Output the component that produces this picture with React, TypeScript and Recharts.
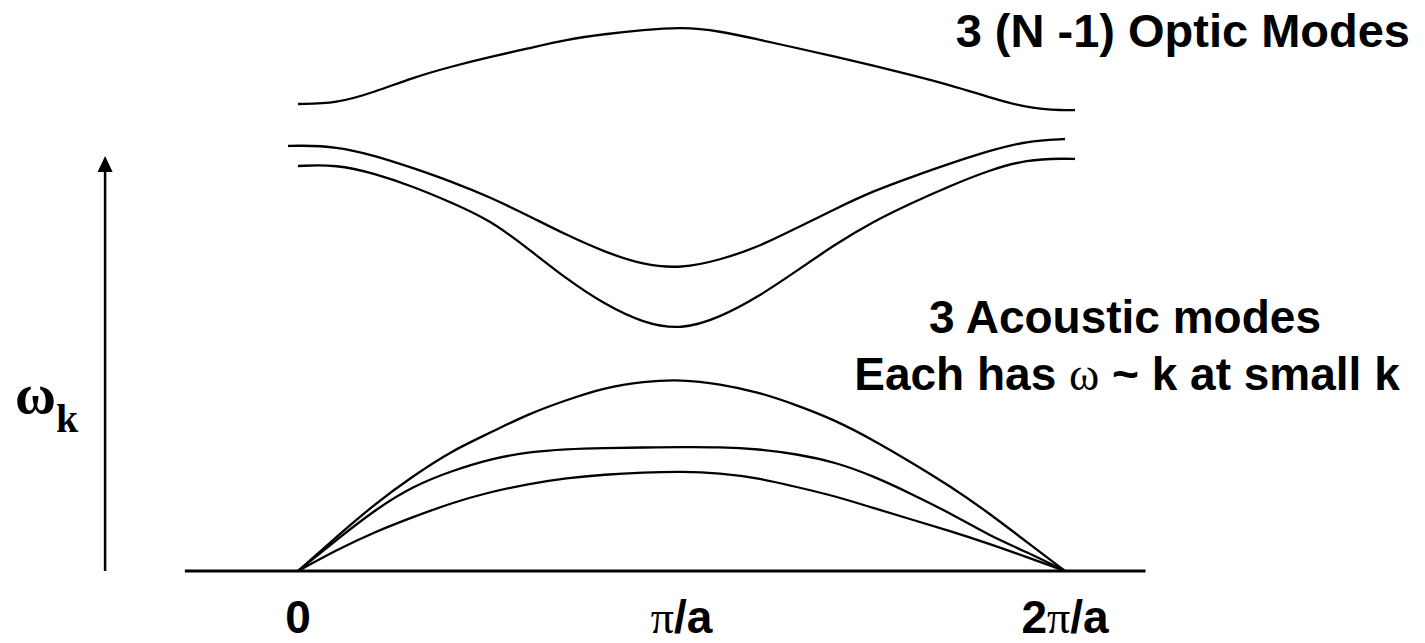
import React from 'react';
import { LineChart, Line, XAxis, YAxis, ReferenceLine, Customized } from 'recharts';

// Wave vector k in units of pi/a, sampled across the zone 0 .. 2pi/a
const kGrid = [0, 0.1, 0.2, 0.3, 0.4, 0.5, 0.6, 0.7, 0.8, 0.9, 1.0, 1.1, 1.2, 1.3, 1.4, 1.5, 1.6, 1.7, 1.8, 1.9, 2.0];
const kLeftStub = -0.026;
const kRightStub = 2.026;

// Optic branches (frequency, arbitrary units)
const opticTop = [9.34, 9.35, 9.58, 9.87, 10.09, 10.28, 10.45, 10.63, 10.74, 10.82, 10.88, 10.8, 10.63, 10.46, 10.29, 10.11, 9.92, 9.72, 9.48, 9.26, 9.21, 9.22];
const opticMid = [8.5, 8.51, 8.49, 8.31, 8.06, 7.79, 7.48, 7.11, 6.72, 6.38, 6.12, 6.05, 6.22, 6.48, 6.86, 7.24, 7.6, 7.88, 8.15, 8.4, 8.6, 8.64];
const opticLow = [8.1, 8.13, 7.95, 7.69, 7.37, 7.02, 6.45, 5.84, 5.33, 4.96, 4.82, 5.07, 5.48, 6.0, 6.53, 6.99, 7.36, 7.7, 8.01, 8.23, 8.25, 8.24];

// Acoustic branches
const acousticTop = [0, 0.68, 1.34, 1.9, 2.4, 2.76, 3.14, 3.42, 3.67, 3.79, 3.83, 3.74, 3.58, 3.32, 3.02, 2.62, 2.17, 1.7, 1.17, 0.58, 0];
const acousticMid = [0, 0.62, 1.22, 1.7, 2.0, 2.24, 2.38, 2.44, 2.46, 2.47, 2.48, 2.48, 2.44, 2.34, 2.18, 1.9, 1.54, 1.16, 0.72, 0.38, 0];
const acousticLow = [0, 0.42, 0.78, 1.08, 1.36, 1.58, 1.74, 1.86, 1.93, 1.97, 1.99, 1.96, 1.86, 1.68, 1.5, 1.26, 1.03, 0.8, 0.55, 0.28, 0];

// Zone tick positions and their labels
const zoneTicks = [0, 1, 2];
const zoneLabels = ['0', 'π/a', '2π/a'];

const toPoints = (ks: number[], ws: number[]) => ks.map((k, i) => ({ k, w: ws[i] }));

const branches = [
  toPoints([...kGrid, kRightStub], opticTop),
  toPoints([kLeftStub, ...kGrid], opticMid),
  toPoints([...kGrid, kRightStub], opticLow),
  toPoints(kGrid, acousticTop),
  toPoints(kGrid, acousticMid),
  toPoints(kGrid, acousticLow),
];

const SANS = 'Liberation Sans, Arial, sans-serif';
const SERIF = 'Liberation Serif, Times New Roman, serif';

const ZoneTick = (props: any) => {
  const { x, payload } = props;
  const label = zoneLabels[zoneTicks.indexOf(payload.value)] ?? '';
  const parts = label.split('π');
  return (
    <text x={x} y={633} textAnchor="middle" fontFamily={SANS} fontWeight="bold" fontSize={46} fill="#000">
      {parts.length > 1 ? (
        <>
          {parts[0]}
          <tspan fontFamily={SERIF} fontWeight="normal">π</tspan>
          {parts[1]}
        </>
      ) : (
        label
      )}
    </text>
  );
};

const AxisArrow = (p: any) => {
  const { x1, y1, y2 } = p;
  const top = Math.min(y1, y2);
  const bottom = Math.max(y1, y2);
  return (
    <g>
      <line x1={x1} x2={x1} y1={bottom} y2={top + 12} stroke="#000" strokeWidth={2.5} />
      <polygon points={`${x1},${top} ${x1 - 7.5},${top + 16} ${x1 + 7.5},${top + 16}`} fill="#000" />
    </g>
  );
};

const Notes = () => (
  <g fill="#000">
    <text x={1410} y={47} textAnchor="end" fontFamily={SANS} fontWeight="bold" fontSize={47}>
      3 (N -1) Optic Modes
    </text>
    <text x={1125} y={333} textAnchor="middle" fontFamily={SANS} fontWeight="bold" fontSize={46}>
      3 Acoustic modes
    </text>
    <text x={1127} y={390} textAnchor="middle" fontFamily={SANS} fontWeight="bold" fontSize={46}>
      {'Each has '}
      <tspan fontFamily={SERIF} fontWeight="normal">ω</tspan>
      {' ~ k at small k'}
    </text>
    <text x={15} y={413} fontFamily={SERIF} fontWeight="bold" fontSize={56}>
      ω
      <tspan fontSize={40} dy={19}>k</tspan>
    </text>
  </g>
);

export default function App() {
  return (
    <div style={{ position: 'absolute', left: 0, top: 0, background: '#fff' }}>
      <LineChart
        width={1425}
        height={643}
        margin={{ top: 21, right: 244.95, bottom: 0, left: 87.075 }}
      >
        <XAxis
          type="number"
          dataKey="k"
          domain={[-0.55, 2.3]}
          allowDataOverflow
          ticks={zoneTicks}
          interval={0}
          axisLine={false}
          tickLine={false}
          tickSize={0}
          tickMargin={0}
          height={72}
          tick={<ZoneTick />}
        />
        <YAxis type="number" domain={[0, 11]} hide allowDataOverflow />
        <ReferenceLine
          segment={[{ x: -0.295, y: 0 }, { x: 2.21, y: 0 }]}
          stroke="#000"
          strokeWidth={3}
          ifOverflow="visible"
        />
        <ReferenceLine
          segment={[{ x: -0.503, y: 0 }, { x: -0.503, y: 8.3 }]}
          ifOverflow="visible"
          shape={<AxisArrow />}
        />
        {branches.map((pts, i) => (
          <Line
            key={i}
            data={pts}
            dataKey="w"
            type="basis"
            stroke="#000"
            strokeWidth={2.3}
            dot={false}
            activeDot={false}
            isAnimationActive={false}
          />
        ))}
        <Customized component={Notes} />
      </LineChart>
    </div>
  );
}
